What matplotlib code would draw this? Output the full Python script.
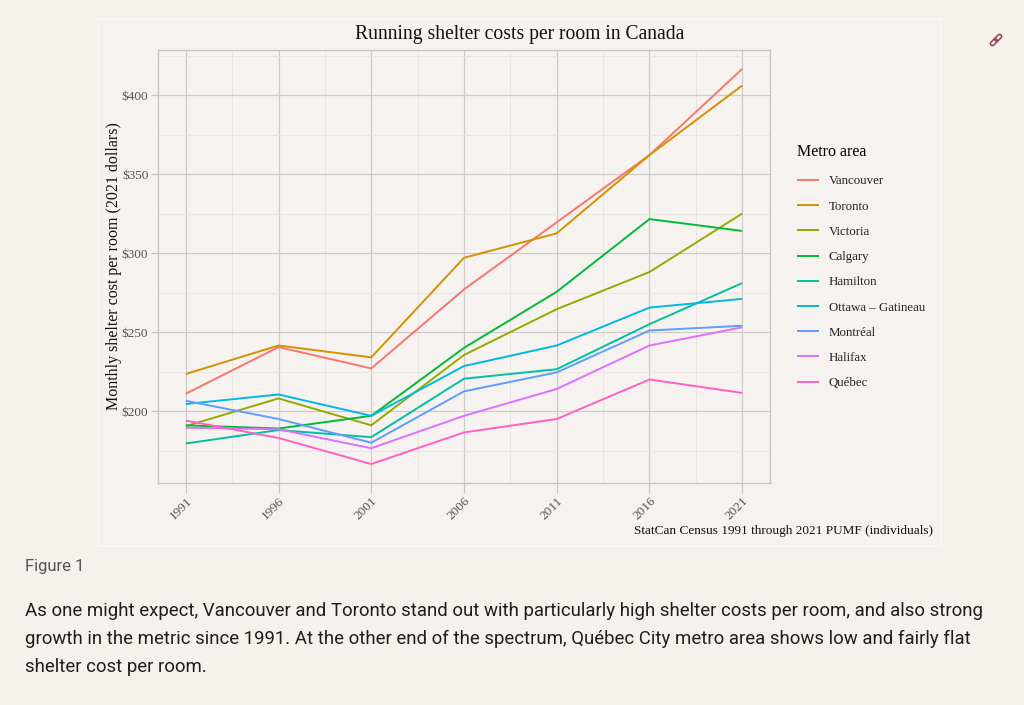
import matplotlib
matplotlib.use("Agg")
import matplotlib.pyplot as plt
from matplotlib.patches import Rectangle, FancyBboxPatch
from matplotlib.ticker import FixedLocator, FuncFormatter
from matplotlib.transforms import Affine2D, IdentityTransform

# ---------------- data ----------------
years = [1991, 1996, 2001, 2006, 2011, 2016, 2021]
metros = ["Vancouver", "Toronto", "Victoria", "Calgary", "Hamilton",
          "Ottawa – Gatineau", "Montréal", "Halifax", "Québec"]
vancouver = [211, 240.5, 227, 277, 319.5, 362, 416.5]
toronto   = [223.5, 241.5, 234, 297, 312.5, 362, 406]
victoria  = [190.5, 208, 191, 235.5, 264.5, 288, 325]
calgary   = [191, 189, 197, 240, 275.5, 321.5, 314]
hamilton  = [179.5, 188, 183.5, 220.5, 226.5, 255, 281]
ottawa    = [204.5, 210.5, 197, 228.5, 241.5, 265.5, 271]
montreal  = [206.5, 195, 180, 212.5, 224.5, 251, 254]
halifax   = [189.5, 188.5, 176.5, 197, 214, 241.5, 253]
quebec    = [194, 183, 166.5, 186.5, 195, 220, 211.5]
series = [vancouver, toronto, victoria, calgary, hamilton, ottawa, montreal, halifax, quebec]
colors = ["#F8766D", "#D39200", "#93AA00", "#00BA38", "#00C19F",
          "#00B9E3", "#619CFF", "#DB72FB", "#FF61C3"]
y_ticks = [200, 250, 300, 350, 400]

title = "Running shelter costs per room in Canada"
ylabel = "Monthly shelter cost per room (2021 dollars)"
caption = "StatCan Census 1991 through 2021 PUMF (individuals)"
legend_title = "Metro area"
fig_label = "Figure 1"
paragraph = ["As one might expect, Vancouver and Toronto stand out with particularly high shelter costs per room, and also strong",
             "growth in the metric since 1991. At the other end of the spectrum, Québec City metro area shows low and fairly flat",
             "shelter cost per room."]

# ---------------- layout ----------------
W, H = 1024, 705
PAGE = "#f5f1ed"
CHART_BG = "#f6f2ef"
SERIF = "Liberation Serif"

fig = plt.figure(figsize=(W / 100, H / 100), dpi=100, facecolor=PAGE)

def fx(px):
    return px / W

def fy(py):
    return 1 - py / H

# chart image panel
fig.patches.append(Rectangle((fx(98), fy(546)), fx(941) - fx(98), fy(19) - fy(546),
                             transform=fig.transFigure, facecolor=CHART_BG,
                             edgecolor="#fbf9f7", linewidth=1.2, zorder=-5))

ax = fig.add_axes([fx(158), fy(483), fx(770) - fx(158), fy(50) - fy(483)])
ax.set_facecolor("none")
ax.set_zorder(2)

for vals, c, name in zip(series, colors, metros):
    ax.plot(years, vals, color=c, lw=1.4, label=name, solid_capstyle="butt")

ax.set_xlim(1989.5, 2022.5)
ax.set_ylim(154.5, 428.5)
ax.xaxis.set_major_locator(FixedLocator(years))
ax.xaxis.set_minor_locator(FixedLocator([y + 2.5 for y in years[:-1]]))
ax.yaxis.set_major_locator(FixedLocator(y_ticks))
ax.yaxis.set_minor_locator(FixedLocator([175, 225, 275, 325, 375, 425]))
ax.yaxis.set_major_formatter(FuncFormatter(lambda v, p: f"${v:.0f}"))

ax.grid(which="major", color="#cfcbc8", lw=0.9)
ax.grid(which="minor", color="#e9e5e1", lw=0.7)
ax.set_axisbelow(True)
for s in ax.spines.values():
    s.set_color("#c9c5c2")
    s.set_linewidth(1.0)

ax.tick_params(axis="both", which="minor", length=0)
ax.tick_params(axis="y", which="major", length=5, width=0.9, color="#c9c5c2",
               labelsize=9.5, labelcolor="#555555", pad=2)
ax.tick_params(axis="x", which="major", length=7, width=0.9, color="#c9c5c2",
               labelsize=9.5, labelcolor="#555555", pad=1.5)
for lab in ax.get_yticklabels():
    lab.set_fontfamily(SERIF)
for lab in ax.get_xticklabels():
    lab.set_fontfamily(SERIF)
    lab.set_rotation(45)
    lab.set_ha("right")
    lab.set_va("top")
    lab.set_rotation_mode("anchor")

ax.set_ylabel(ylabel, fontfamily=SERIF, fontsize=11.5, color="#111111", labelpad=0)

fig.text(fx(520), fy(35), title, fontfamily=SERIF, fontsize=14.1, color="#111111",
         ha="center", va="center")
fig.text(fx(933), fy(531), caption, fontfamily=SERIF, fontsize=9.5, color="#111111",
         ha="right", va="center")

leg = ax.legend(loc="upper left", bbox_to_anchor=(fx(792), fy(139)),
                bbox_transform=fig.transFigure, frameon=False,
                title=legend_title, prop={"family": SERIF, "size": 9.3},
                handlelength=1.7, handletextpad=0.75, labelspacing=1.02,
                borderaxespad=0, alignment="left")
leg.get_title().set_fontfamily(SERIF)
leg.get_title().set_fontsize(11.5)
leg._legend_box.sep = 11
for t in leg.get_texts():
    t.set_color("#222222")

# page text
fig.text(fx(25), fy(567), fig_label, fontfamily="Roboto", fontsize=12, color="#555555",
         ha="left", va="center")
for i, line in enumerate(paragraph):
    fig.text(fx(25), fy(611 + 28 * i), line, fontfamily="Roboto", fontsize=13.4,
             color="#1f1f1f", ha="left", va="center")

# small link icon (two rotated rounded links), pixel coordinates
cx, cy = 996, H - 40
for dx, dy in [(-2.2, -2.2), (2.2, 2.2)]:
    p = FancyBboxPatch((cx + dx - 4, cy + dy - 2), 8, 4,
                       boxstyle="round,pad=0,rounding_size=2",
                       facecolor="none", edgecolor="#9b3b4a", linewidth=1.1)
    p.set_transform(Affine2D().rotate_deg_around(cx + dx, cy + dy, 45) + IdentityTransform())
    fig.patches.append(p)

fig.savefig("out.png", dpi=100, facecolor=PAGE)
